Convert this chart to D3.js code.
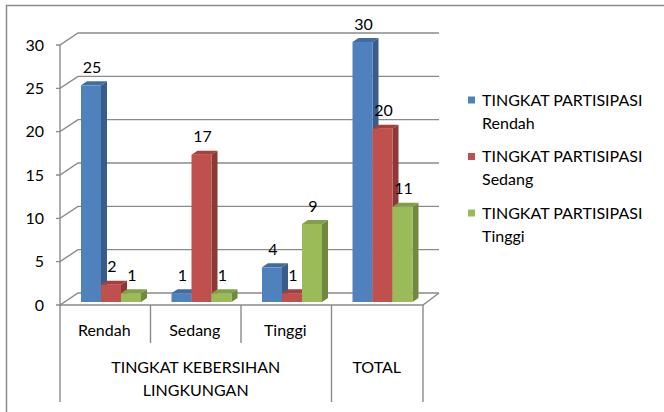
<!DOCTYPE html>
<meta charset="utf-8">
<style>
    body { margin: 0; background: #fff; }
    text { font-family: Lato, "Liberation Sans", Arial, sans-serif; font-size: 16px; fill: #000; }
    .grid { stroke: #8a8a8a; stroke-width: 1.4px; fill: none; }
</style>
<body>
<script src="https://d3js.org/d3.v7.min.js"></script>
<script>
    // data
    var categories = ["Rendah", "Sedang", "Tinggi", "TOTAL"];
    var seriesNames = ["TINGKAT PARTISIPASI Rendah", "TINGKAT PARTISIPASI Sedang", "TINGKAT PARTISIPASI Tinggi"];
    var legendLines = [["TINGKAT PARTISIPASI", "Rendah"], ["TINGKAT PARTISIPASI", "Sedang"], ["TINGKAT PARTISIPASI", "Tinggi"]];
    var rendah = [25, 1, 4, 30];
    var sedang = [2, 17, 1, 20];
    var tinggi = [1, 1, 9, 11];
    var yTicks = [0, 5, 10, 15, 20, 25, 30];
    var groupLabels = [["TINGKAT KEBERSIHAN", "LINGKUNGAN"], ["TOTAL"]];
    var groupSpans = [[0, 2], [3, 3]];

    var colors = ["#4f81bd", "#c0504d", "#9bbb59"],
        sides = ["#385d8a", "#8c3836", "#71893f"],
        tops = ["#3f6ca3", "#a33f3c", "#81a04a"];

    var width = 664, height = 412;
    var svg = d3.select("body").append("svg")
        .attr("width", width)
        .attr("height", height);

    // outer chart border (cut by the window on right and bottom)
    svg.append("rect")
        .attr("x", 6.5).attr("y", 5.5)
        .attr("width", 720).attr("height", 500)
        .attr("fill", "none").attr("stroke", "#8c8c8c").attr("stroke-width", 1.5);

    var wall = {dx: 18, dy: -12};    // depth of the plot box
    var barOff = {dx: 4, dy: -3};    // plane of the bars' front faces
    var barDepth = {dx: 6, dy: -4};

    var x0 = d3.scaleBand().domain(categories).range([59, 421]);
    var x1 = d3.scaleBand().domain(d3.range(3)).range([18, 78]);
    var y = d3.scaleLinear().domain([0, 30]).range([305, 45]);

    var values = [rendah, sedang, tinggi];

    // floor
    var x0end = x0.range()[1] + 2;
    svg.append("path").attr("class", "grid")
        .attr("d", "M" + x0.range()[0] + "," + y(0) + "H" + x0end +
            "l" + (wall.dx - 2) + "," + wall.dy);

    // back wall gridlines and diagonals
    yTicks.forEach(function(t) {
        var yy = y(t);
        svg.append("path").attr("class", "grid")
            .attr("d", "M" + (x0.range()[0] + 1 - 4) + "," + yy + "H" + (x0.range()[0] + 1) +
                "l" + wall.dx + "," + wall.dy + "H" + (x0end + wall.dx - 2));
        svg.append("text")
            .attr("x", 44).attr("y", yy).attr("dy", "0.35em")
            .attr("text-anchor", "end")
            .text(t);
    });
    // vertical value axis line
    svg.append("line").attr("class", "grid")
        .attr("x1", x0.range()[0] + 1).attr("x2", x0.range()[0] + 1)
        .attr("y1", y(30)).attr("y2", y(0));

    // bars
    categories.forEach(function(c, i) {
        for (var s = 0; s < 3; s++) {
            var v = values[s][i];
            var bx = x0(c) + x1(s) + barOff.dx,
                bw = x1.bandwidth(),
                by = y(v) + barOff.dy,
                base = y(0) + barOff.dy;
            var g = svg.append("g");
            // side
            g.append("path")
                .attr("d", "M" + (bx + bw) + "," + base + "V" + by +
                    "l" + barDepth.dx + "," + barDepth.dy + "V" + (base + barDepth.dy) + "Z")
                .attr("fill", sides[s]);
            // top
            g.append("path")
                .attr("d", "M" + bx + "," + by + "h" + bw + "l" + barDepth.dx + "," + barDepth.dy +
                    "h" + (-bw) + "Z")
                .attr("fill", tops[s]);
            // front
            g.append("rect")
                .attr("x", bx).attr("y", by)
                .attr("width", bw).attr("height", base - by)
                .attr("fill", colors[s]);
        }
    });

    // value labels
    categories.forEach(function(c, i) {
        for (var s = 0; s < 3; s++) {
            var v = values[s][i];
            svg.append("text")
                .attr("x", x0(c) + x1(s) + barOff.dx + x1.bandwidth() / 2 + 1)
                .attr("y", y(v) + barOff.dy - 18)
                .attr("dy", "0.35em")
                .attr("text-anchor", "middle")
                .text(v);
        }
    });

    // category axis (two levels)
    var axisTop = y(0);
    x0.domain().forEach(function(c, i) {
        var edge = x0(c);
        var isGroupEdge = groupSpans.some(function(sp) { return sp[0] === i; });
        svg.append("line").attr("class", "grid")
            .attr("x1", edge + 1).attr("x2", edge + 1)
            .attr("y1", axisTop).attr("y2", isGroupEdge ? 402 : 343);
        if (i < 3) {
            svg.append("text")
                .attr("x", edge + x0.bandwidth() / 2).attr("y", 330)
                .attr("dy", "0.35em").attr("text-anchor", "middle")
                .text(c);
        }
    });
    svg.append("line").attr("class", "grid")
        .attr("x1", x0end).attr("x2", x0end)
        .attr("y1", axisTop).attr("y2", 402);

    groupLabels.forEach(function(lines, k) {
        var sp = groupSpans[k];
        var cx = (x0(categories[sp[0]]) + x0(categories[sp[1]]) + x0.bandwidth()) / 2 + 1;
        lines.forEach(function(l, j) {
            svg.append("text")
                .attr("x", cx).attr("y", 367 + j * 23)
                .attr("dy", "0.35em").attr("text-anchor", "middle")
                .text(l);
        });
    });

    // legend
    var legend = svg.selectAll(".legend")
        .data(seriesNames)
        .enter().append("g")
        .attr("class", "legend")
        .attr("transform", function(d, i) { return "translate(468," + (100 + i * 56.5) + ")"; });
    legend.append("rect")
        .attr("x", 0).attr("y", -3.5)
        .attr("width", 7).attr("height", 7)
        .attr("fill", function(d, i) { return colors[i]; });
    legend.each(function(d, i) {
        var g = d3.select(this);
        legendLines[i].forEach(function(l, j) {
            g.append("text")
                .attr("x", 14).attr("y", j * 23)
                .attr("dy", "0.35em")
                .text(l);
        });
    });
</script>
</body>
